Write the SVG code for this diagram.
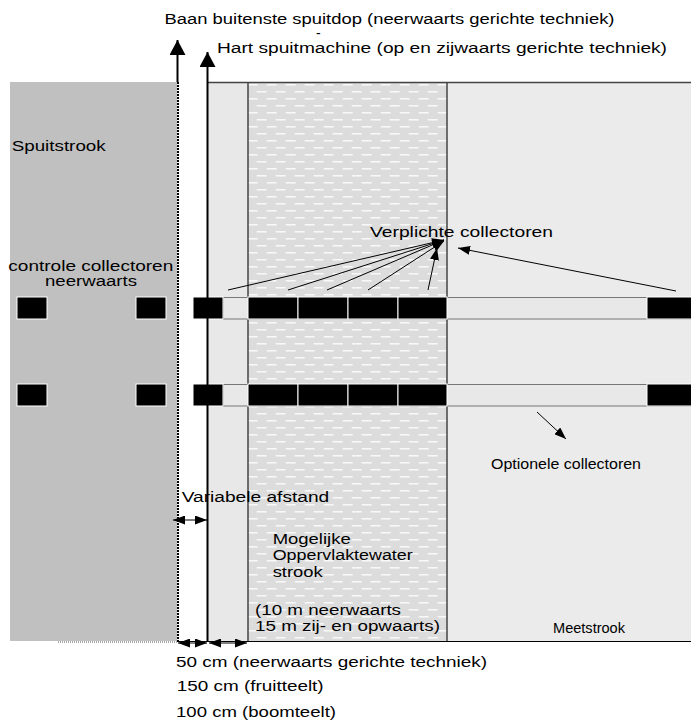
<svg xmlns="http://www.w3.org/2000/svg" width="691" height="725" viewBox="0 0 691 725">
<style>
.t{font-family:"Liberation Sans",Arial,sans-serif;font-size:14px;fill:#000}
.blk{fill:#000;stroke:#fff;stroke-width:1}
.band{fill:#e8e8e8;stroke:#777;stroke-width:1}
.ln{stroke:#000;stroke-width:1;fill:none}
.bd{stroke:#444;stroke-width:1.5;fill:none}
</style>
<defs>
<pattern id="dash" width="19" height="14" patternUnits="userSpaceOnUse">
<rect width="19" height="14" fill="#dcdcdc"/>
<rect x="9.7" y="7" width="10" height="1.6" fill="#f8f8f8"/>
<rect x="-9.3" y="7" width="10" height="1.6" fill="#f8f8f8"/>
<rect x="0.7" y="0" width="10" height="1.6" fill="#f8f8f8"/>
</pattern>
<marker id="big" viewBox="0 0 15 16" markerWidth="15" markerHeight="16" refX="15" refY="8" orient="auto" markerUnits="userSpaceOnUse">
<path d="M0,0 L15,8 L0,16 z" fill="#000"/>
</marker>
<marker id="sm" viewBox="0 0 12 9" markerWidth="12" markerHeight="9" refX="12" refY="4.5" orient="auto-start-reverse" markerUnits="userSpaceOnUse">
<path d="M0,0 L12,4.5 L0,9 z" fill="#000"/>
</marker>
</defs>

<g id="spuitstrook">
<rect x="10" y="82" width="167" height="559" fill="#c0c0c0"/>
<text class="t" x="11.7" y="151" textLength="94" lengthAdjust="spacingAndGlyphs">Spuitstrook</text>
<text class="t" x="8.3" y="271" textLength="165" lengthAdjust="spacingAndGlyphs">controle collectoren</text>
<text class="t" x="45" y="286" textLength="92" lengthAdjust="spacingAndGlyphs">neerwaarts</text>
</g>

<g id="tussenstrook">
<rect x="207" y="82" width="41" height="559" fill="#e8e8e8"/>
</g>

<g id="oppervlaktewaterstrook">
<rect x="248" y="82" width="199" height="559" fill="url(#dash)"/>
<text class="t" x="272.7" y="543.5" textLength="78" lengthAdjust="spacingAndGlyphs">Mogelijke</text>
<text class="t" x="272.7" y="560" textLength="140" lengthAdjust="spacingAndGlyphs">Oppervlaktewater</text>
<text class="t" x="272.7" y="576.5" textLength="50" lengthAdjust="spacingAndGlyphs">strook</text>
<text class="t" x="255" y="614.5" textLength="146" lengthAdjust="spacingAndGlyphs">(10 m neerwaarts</text>
<text class="t" x="255" y="631" textLength="185" lengthAdjust="spacingAndGlyphs">15 m zij- en opwaarts)</text>
</g>

<g id="meetstrook">
<rect x="447" y="82" width="244" height="559" fill="#ebebeb"/>
<text class="t" x="553" y="633" textLength="72" lengthAdjust="spacingAndGlyphs">Meetstrook</text>
</g>

<g id="borders">
<line class="bd" x1="207" y1="82.5" x2="691" y2="82.5"/>
<line class="bd" x1="248" y1="82" x2="248" y2="641"/>
<line class="bd" x1="447" y1="82" x2="447" y2="641"/>
<line x1="177" y1="641.5" x2="691" y2="641.5" stroke="#000" stroke-width="1.2"/>
<line x1="58" y1="642" x2="177" y2="642" stroke="#555" stroke-width="1" stroke-dasharray="1,1"/>
<line x1="178" y1="82" x2="178" y2="641" stroke="#000" stroke-width="2" stroke-dasharray="2,1"/>
</g>

<g id="collectorrij-1">
<rect class="band" x="223" y="297.5" width="470" height="21.5"/>
<rect class="blk" x="17" y="297" width="30" height="22"/>
<rect class="blk" x="136" y="297" width="30" height="22"/>
<rect class="blk" x="193" y="297" width="30" height="22"/>
<rect class="blk" x="248" y="297" width="50" height="22"/>
<rect class="blk" x="298" y="297" width="50" height="22"/>
<rect class="blk" x="348" y="297" width="50" height="22"/>
<rect class="blk" x="398" y="297" width="49" height="22"/>
<rect class="blk" x="647" y="297" width="46" height="22"/>
</g>

<g id="collectorrij-2">
<rect class="band" x="223" y="384.5" width="470" height="21.5"/>
<rect class="blk" x="17" y="384" width="30" height="22"/>
<rect class="blk" x="136" y="384" width="30" height="22"/>
<rect class="blk" x="193" y="384" width="30" height="22"/>
<rect class="blk" x="248" y="384" width="50" height="22"/>
<rect class="blk" x="298" y="384" width="50" height="22"/>
<rect class="blk" x="348" y="384" width="50" height="22"/>
<rect class="blk" x="398" y="384" width="49" height="22"/>
<rect class="blk" x="647" y="384" width="46" height="22"/>
</g>

<g id="connectors">
<line x1="177.5" y1="82" x2="177.5" y2="40" stroke="#000" stroke-width="2" marker-end="url(#big)"/>
<line x1="207.5" y1="641" x2="207.5" y2="52" stroke="#000" stroke-width="2" marker-end="url(#big)"/>
<line class="ln" x1="228" y1="290" x2="444" y2="240" marker-end="url(#sm)"/>
<line class="ln" x1="288" y1="290" x2="444" y2="240" marker-end="url(#sm)"/>
<line class="ln" x1="327" y1="290" x2="444" y2="240" marker-end="url(#sm)"/>
<line class="ln" x1="368" y1="290" x2="444" y2="241" marker-end="url(#sm)"/>
<line class="ln" x1="428" y1="290" x2="437" y2="248" marker-end="url(#sm)"/>
<line class="ln" x1="676" y1="291" x2="458" y2="248" marker-end="url(#sm)"/>
<line class="ln" x1="537" y1="412" x2="566" y2="439" marker-end="url(#sm)"/>
<line class="ln" x1="173" y1="520" x2="207" y2="520" marker-start="url(#sm)" marker-end="url(#sm)"/>
<line class="ln" x1="178" y1="643" x2="207" y2="643" marker-start="url(#sm)" marker-end="url(#sm)"/>
<line class="ln" x1="209" y1="643" x2="247" y2="643" marker-start="url(#sm)" marker-end="url(#sm)"/>
</g>

<g id="labels">
<text class="t" x="164.5" y="23.5" textLength="450" lengthAdjust="spacingAndGlyphs">Baan buitenste spuitdop (neerwaarts gerichte techniek)</text>
<text class="t" x="316" y="37.5" font-size="12">-</text>
<text class="t" x="217" y="53" textLength="450" lengthAdjust="spacingAndGlyphs">Hart spuitmachine (op en zijwaarts gerichte techniek)</text>
<text class="t" x="370" y="237" textLength="183" lengthAdjust="spacingAndGlyphs">Verplichte collectoren</text>
<text class="t" x="491" y="469" textLength="150" lengthAdjust="spacingAndGlyphs">Optionele collectoren</text>
<text class="t" x="181.7" y="502" textLength="147.6" lengthAdjust="spacingAndGlyphs">Variabele afstand</text>
<text class="t" x="176" y="667" textLength="311" lengthAdjust="spacingAndGlyphs">50 cm (neerwaarts gerichte techniek)</text>
<text class="t" x="176.7" y="690.7" textLength="147" lengthAdjust="spacingAndGlyphs">150 cm (fruitteelt)</text>
<text class="t" x="176" y="717" textLength="160" lengthAdjust="spacingAndGlyphs">100 cm (boomteelt)</text>
</g>
</svg>
